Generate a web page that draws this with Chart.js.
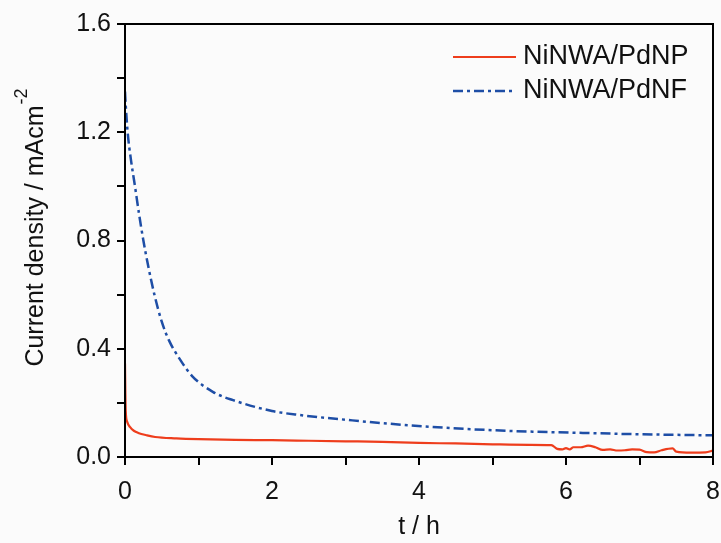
<!DOCTYPE html>
<html>
<head>
<meta charset="utf-8">
<script src="https://cdn.jsdelivr.net/npm/chart.js@4"></script>
<style>
  html, body { margin: 0; padding: 0; background: #fff; }
  #wrap { width: 721px; height: 543px; }
</style>
</head>
<body>
<div id="wrap"><canvas id="chart" width="721" height="543"></canvas></div>
<script>
// t / h and current density (mA cm^-2)
const pdnpTime = [0, 0.005, 0.01, 0.03, 0.07, 0.12, 0.18, 0.3, 0.41, 0.7, 1.0, 1.5, 2.0, 2.5, 3.0, 3.5, 4.0, 4.5, 5.0, 5.5, 5.8,
  5.88, 5.95, 6.0, 6.05, 6.1, 6.2, 6.3, 6.4, 6.5, 6.6, 6.7, 6.8, 6.9, 7.0, 7.1, 7.2, 7.3, 7.45, 7.5, 7.7, 7.9, 8.0];
const pdnpValues = [0.345, 0.24, 0.17, 0.13, 0.11, 0.097, 0.089, 0.080, 0.074, 0.069, 0.066, 0.063, 0.062, 0.060, 0.058, 0.056, 0.052, 0.050, 0.047, 0.045, 0.044,
  0.030, 0.028, 0.033, 0.028, 0.036, 0.036, 0.042, 0.036, 0.026, 0.028, 0.024, 0.025, 0.028, 0.027, 0.018, 0.017, 0.025, 0.032, 0.020, 0.016, 0.017, 0.024];

const pdnfTime = [0, 0.01, 0.036, 0.08, 0.136, 0.19, 0.25, 0.32, 0.4, 0.5, 0.6, 0.75, 0.91, 1.2, 1.47, 2.0, 2.38, 3.03, 3.5, 4.42, 5.0, 5.5, 6.23, 7.0, 8.0];
const pdnfValues = [1.35, 1.30, 1.20, 1.10, 1.00, 0.90, 0.80, 0.70, 0.60, 0.50, 0.43, 0.36, 0.30, 0.24, 0.21, 0.17, 0.155, 0.137, 0.125, 0.107, 0.099, 0.094, 0.089, 0.084, 0.080];

const seriesNames = ['NiNWA/PdNP', 'NiNWA/PdNF'];
const xTitle = 't / h';
const yTitle = 'Current density / mAcm';
const yTitleSup = '-2';

const FONT = 'Liberation Sans, Arial, sans-serif';

function toPoints(xs, ys) {
  return xs.map((x, i) => ({ x: x, y: ys[i] }));
}

// background, frame, legend and y title with superscript
const decor = {
  id: 'decor',
  beforeDraw(chart) {
    const ctx = chart.ctx;
    ctx.save();
    ctx.fillStyle = '#fbfbfb';
    ctx.fillRect(0, 0, chart.width, chart.height);
    ctx.restore();
  },
  afterDraw(chart) {
    const ctx = chart.ctx;
    const a = chart.chartArea;
    ctx.save();
    ctx.strokeStyle = '#000';
    ctx.lineWidth = 2;
    ctx.strokeRect(a.left, a.top, a.right - a.left, a.bottom - a.top);

    // legend
    const rows = [57, 91];
    chart.data.datasets.forEach((ds, i) => {
      ctx.beginPath();
      ctx.strokeStyle = ds.borderColor;
      ctx.lineWidth = ds.borderWidth;
      ctx.setLineDash(ds.borderDash || []);
      ctx.moveTo(453, rows[i]);
      ctx.lineTo(516, rows[i]);
      ctx.stroke();
      ctx.setLineDash([]);
      ctx.fillStyle = '#111';
      ctx.font = '27px ' + FONT;
      ctx.textAlign = 'left';
      ctx.textBaseline = 'middle';
      ctx.fillText(ds.label, 523, rows[i]);
    });

    // y title
    ctx.translate(43, 228);
    ctx.rotate(-Math.PI / 2);
    ctx.fillStyle = '#111';
    ctx.textBaseline = 'alphabetic';
    ctx.textAlign = 'left';
    ctx.font = '25px ' + FONT;
    const w1 = ctx.measureText(yTitle).width;
    ctx.font = '18px ' + FONT;
    const w2 = ctx.measureText(yTitleSup).width;
    const start = -(w1 + w2) / 2;
    ctx.font = '25px ' + FONT;
    ctx.fillText(yTitle, start, 0);
    ctx.font = '18px ' + FONT;
    ctx.fillText(yTitleSup, start + w1 + 1, -16);
    ctx.restore();
  }
};

new Chart('chart', {
  type: 'line',
  data: {
    datasets: [{
      label: seriesNames[0],
      data: toPoints(pdnpTime, pdnpValues),
      borderColor: '#ee3d1c',
      borderWidth: 2.2,
      pointRadius: 0,
      cubicInterpolationMode: 'monotone'
    }, {
      label: seriesNames[1],
      data: toPoints(pdnfTime, pdnfValues),
      borderColor: '#1e4ea6',
      borderWidth: 2.5,
      borderDash: [10, 4, 3, 4],
      pointRadius: 0,
      cubicInterpolationMode: 'monotone'
    }]
  },
  options: {
    responsive: false,
    animation: false,
    layout: { padding: { top: 24, right: 8, left: 0, bottom: 0 } },
    plugins: {
      legend: { display: false },
      tooltip: { enabled: false }
    },
    scales: {
      x: {
        type: 'linear',
        min: 0,
        max: 8,
        afterFit: s => { s.height = 86; s.paddingLeft = 0; s.paddingRight = 0; },
        border: { color: '#000', width: 2 },
        grid: { drawOnChartArea: false, color: '#000', lineWidth: 2, tickLength: 8 },
        ticks: {
          stepSize: 1,
          color: '#111',
          padding: 12,
          maxRotation: 0,
          font: { family: FONT, size: 25 },
          callback: v => (Math.round(v) % 2 === 0 ? String(v) : '')
        },
        title: {
          display: true,
          text: xTitle,
          color: '#111',
          font: { family: FONT, size: 25 },
          padding: { top: 0, bottom: 1 }
        }
      },
      y: {
        min: 0,
        max: 1.6,
        afterFit: s => { s.width = 125; s.paddingTop = 0; s.paddingBottom = 0; },
        border: { color: '#000', width: 2 },
        grid: { drawOnChartArea: false, color: '#000', lineWidth: 2, tickLength: 8 },
        ticks: {
          stepSize: 0.2,
          color: '#111',
          padding: 6,
          font: { family: FONT, size: 25 },
          callback: v => (Math.round(v * 10) % 4 === 0 ? v.toFixed(1) : '')
        }
      }
    }
  },
  plugins: [decor]
});
</script>
</body>
</html>
